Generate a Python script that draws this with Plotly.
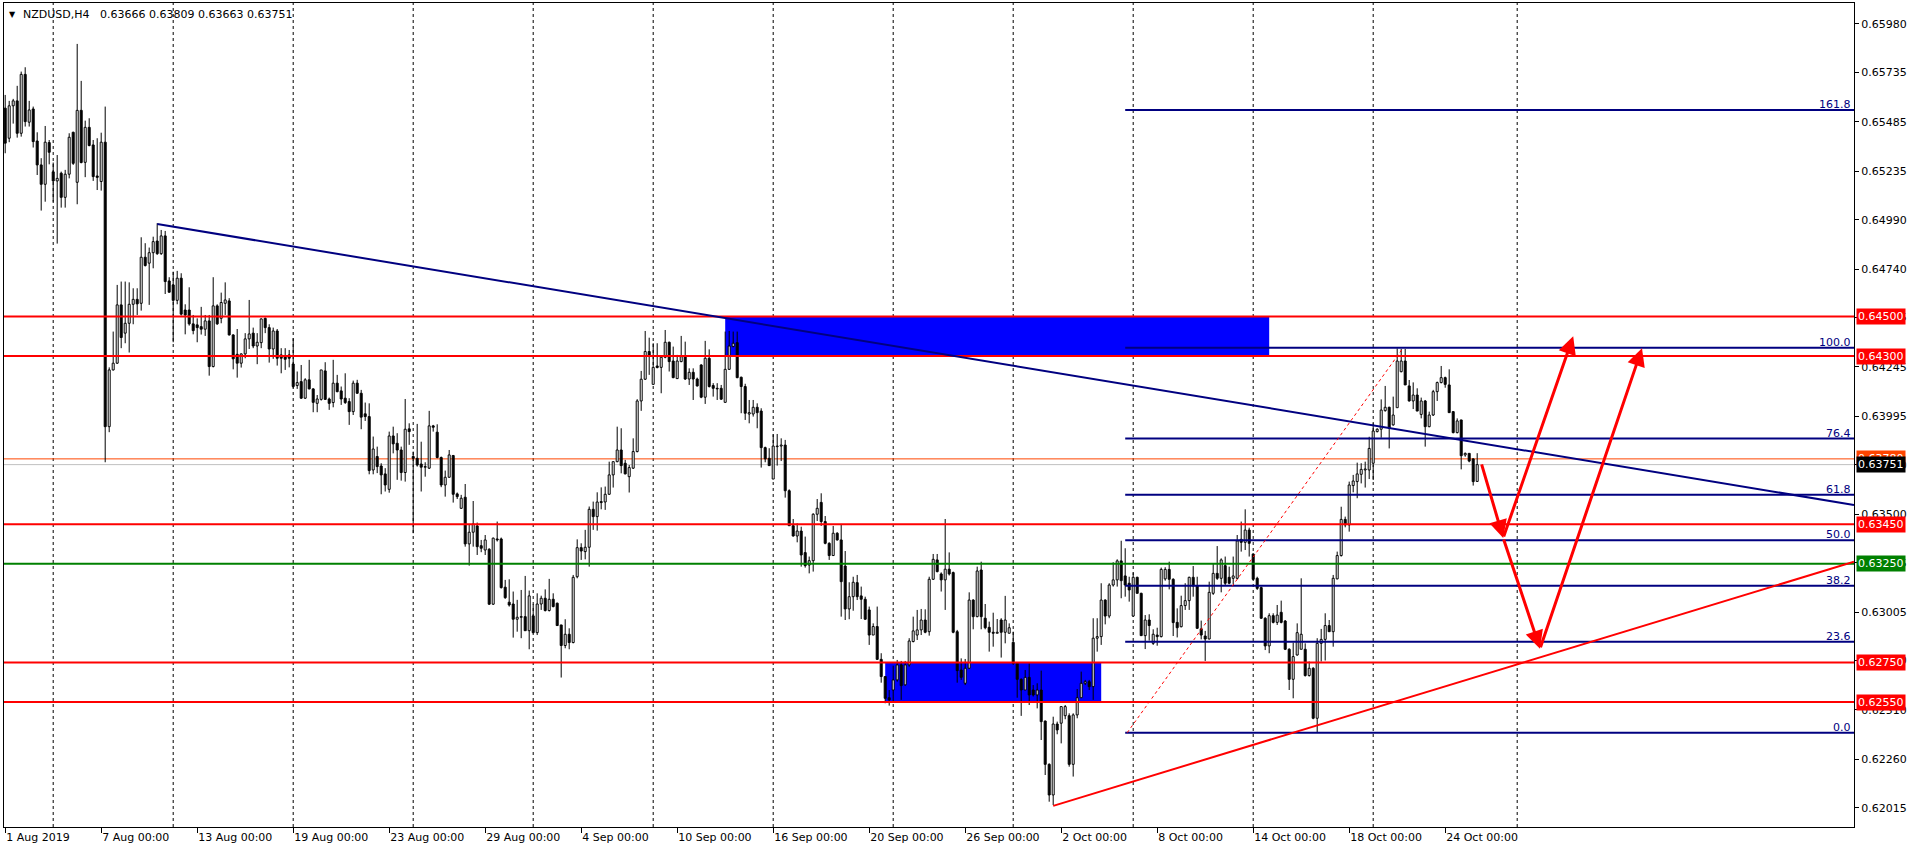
import plotly.graph_objects as go

# ---------------- data (NZDUSD H4, bar index 0 = 1 Aug 2019 00:00) ----------------
OPEN = [
 .65554,.65402,.65566,.65591,.65427,.65725,.65483,.65550,.65388,.65267,
 .65169,.65380,.65232,.65186,.65225,.65103,.65220,.65432,.65179,.65543,
 .65280,.65457,.65368,.65211,.65183,.65382,.63943,.64230,.64264,.64559,
 .64416,.64466,.64562,.64587,.64567,.64800,.64770,.64823,.64882,.64818,
 .64908,.64680,.64660,.64582,.64694,.64533,.64533,.64463,.64458,.64449,
 .64436,.64478,.64247,.64554,.64491,.64567,.64579,.64407,.64309,.64264,
 .64311,.64387,.64416,.64351,.64368,.64491,.64444,.64336,.64427,.64306,
 .64297,.64306,.64260,.64151,.64171,.64087,.64180,.64134,.64061,.64081,
 .64225,.64083,.64065,.64163,.64124,.64087,.64070,.64019,.64163,.64112,
 .64008,.63994,.63724,.63792,.63744,.63704,.63626,.63896,.63859,.63825,
 .63711,.63932,.63792,.63783,.63754,.63741,.63733,.63947,.63915,.63787,
 .63648,.63687,.63797,.63603,.63530,.63586,.63350,.63409,.63441,.63341,
 .63319,.63323,.63045,.63375,.63375,.63131,.63055,.63046,.62969,.62982,
 .62982,.62911,.62986,.62901,.63046,.63075,.63013,.63070,.63050,.62940,
 .62836,.62893,.62851,.63184,.63331,.63311,.63333,.63525,.63488,.63564,
 .63562,.63601,.63699,.63766,.63825,.63758,.63690,.63733,.63817,.64073,
 .64183,.64323,.64157,.64250,.64243,.64294,.64370,.64275,.64186,.64272,
 .64297,.64184,.64218,.64184,.64255,.64092,.64289,.64151,.64137,.64137,
 .64066,.64233,.64348,.64368,.64193,.64146,.64007,.64007,.64041,.64022,
 .63837,.63783,.63678,.63842,.63845,.63850,.63619,.63442,.63390,.63415,
 .63306,.63243,.63265,.63500,.63560,.63463,.63353,.63291,.63404,.63370,
 .63238,.63021,.63083,.63154,.63087,.63070,.63016,.62889,.62932,.62766,
 .62679,.62572,.62611,.62662,.62738,.62637,.62738,.62856,.62889,.62915,
 .62965,.62906,.63171,.63269,.63198,.63168,.63222,.63205,.62906,.62712,
 .62645,.62721,.63066,.62982,.63218,.62974,.62928,.62903,.62898,.62965,
 .62903,.62898,.62852,.62746,.62665,.62611,.62675,.62611,.62586,.62611,
 .62454,.62235,.62080,.62439,.62443,.62481,.62481,.62235,.62485,.62572,
 .62645,.62653,.62628,.62873,.62881,.63066,.62985,.63142,.63168,.63264,
 .63188,.63151,.62985,.63181,.63100,.62886,.62965,.62847,.62889,.62881,
 .63173,.63221,.63171,.62953,.62931,.63038,.63063,.63181,.63137,.62920,
 .62884,.62869,.63100,.63201,.63176,.63240,.63181,.63176,.63176,.63373,
 .63358,.63420,.63299,.63176,.63129,.62974,.62834,.62987,.62953,.63004,
 .62960,.62817,.62665,.62788,.62817,.62817,.62684,.62721,.62468,.62847,
 .62867,.62937,.62906,.63173,.63291,.63474,.63446,.63645,.63665,.63702,
 .63724,.63724,.63758,.63918,.63930,.64024,.64041,.63952,.64039,.64221,
 .64275,.64149,.64073,.64103,.64005,.64073,.63943,.64002,.64120,.64166,
 .64191,.64154,.64019,.63913,.63977,.63800,.63808,.63780,.63666,
]
HIGH = [
 .65621,.65591,.65601,.65667,.65739,.65761,.65591,.65562,.65432,.65301,
 .65464,.65393,.65279,.65317,.65233,.65242,.65427,.65435,.65879,.65692,
 .65491,.65503,.65393,.65402,.65430,.65562,.64243,.64424,.64660,.64677,
 .64677,.64673,.64643,.64643,.64901,.64871,.64849,.64904,.64972,.64938,
 .64933,.64699,.64727,.64731,.64719,.64562,.64648,.64508,.64491,.64549,
 .64508,.64508,.64699,.64562,.64621,.64673,.64593,.64410,.64437,.64314,
 .64416,.64584,.64444,.64416,.64491,.64495,.64461,.64444,.64437,.64340,
 .64340,.64331,.64390,.64222,.64255,.64188,.64281,.64137,.64103,.64230,
 .64269,.64090,.64281,.64205,.64146,.64213,.64087,.64176,.64180,.64129,
 .64065,.64061,.63893,.63842,.63758,.63733,.63918,.63943,.63910,.63842,
 .64083,.63960,.63817,.63957,.63867,.63763,.64023,.63952,.63955,.63792,
 .63721,.63825,.63800,.63610,.63598,.63653,.63451,.63567,.63458,.63370,
 .63395,.63328,.63382,.63463,.63382,.63168,.63171,.63109,.63067,.63117,
 .63188,.63114,.63045,.63100,.63088,.63120,.63173,.63100,.63053,.62940,
 .62969,.62923,.63193,.63373,.63353,.63421,.63539,.63564,.63611,.63636,
 .63640,.63766,.63766,.63943,.63935,.63775,.63749,.63884,.64082,.64225,
 .64427,.64393,.64365,.64365,.64297,.64432,.64373,.64348,.64306,.64402,
 .64373,.64238,.64238,.64191,.64259,.64377,.64334,.64163,.64163,.64154,
 .64424,.64427,.64424,.64424,.64196,.64160,.64078,.64078,.64061,.64036,
 .63842,.63834,.63904,.63906,.63884,.63876,.63626,.63476,.63454,.63437,
 .63387,.63286,.63505,.63577,.63606,.63491,.63358,.63441,.63409,.63451,
 .63314,.63156,.63184,.63193,.63134,.63083,.63033,.62948,.63033,.62797,
 .62679,.62611,.62734,.62763,.62758,.62758,.62873,.62982,.63016,.63021,
 .63019,.63184,.63299,.63299,.63206,.63476,.63307,.63210,.62915,.62771,
 .62768,.63105,.63070,.63235,.63260,.63046,.62957,.63002,.62970,.62974,
 .63087,.62948,.62906,.62750,.62670,.62712,.62746,.62636,.62645,.62709,
 .62456,.62240,.62476,.62451,.62530,.62535,.62493,.62493,.62616,.62704,
 .62662,.62662,.62974,.62974,.63151,.63070,.63151,.63257,.63272,.63366,
 .63328,.63184,.63205,.63184,.63103,.62990,.62994,.62918,.62926,.63230,
 .63232,.63260,.63176,.63024,.63088,.63151,.63184,.63238,.63184,.62962,
 .62910,.63159,.63252,.63339,.63277,.63286,.63235,.63286,.63395,.63463,
 .63525,.63432,.63302,.63184,.63134,.62979,.62999,.62999,.63041,.63063,
 .62965,.62822,.62851,.62948,.63176,.62847,.62755,.62726,.62873,.62920,
 .62999,.62965,.63193,.63311,.63538,.63488,.63665,.63699,.63761,.63758,
 .63766,.63892,.63960,.63935,.64081,.64149,.64044,.64095,.64339,.64336,
 .64336,.64179,.64167,.64137,.64090,.64078,.64019,.64129,.64171,.64250,
 .64196,.64233,.64022,.63985,.63977,.63812,.63808,.63783,.63809,
]
LOW = [
 .65326,.65382,.65476,.65405,.65410,.65461,.65461,.65355,.65216,.65036,
 .65081,.65270,.65081,.64869,.65051,.65051,.65199,.65267,.65068,.65275,
 .65205,.65361,.65186,.65140,.65137,.63763,.63915,.64227,.64260,.64340,
 .64365,.64318,.64461,.64508,.64530,.64753,.64559,.64744,.64812,.64812,
 .64614,.64621,.64370,.64562,.64505,.64410,.64454,.64410,.64370,.64409,
 .64402,.64201,.64243,.64458,.64466,.64508,.64404,.64233,.64191,.64242,
 .64289,.64336,.64340,.64259,.64340,.64416,.64267,.64286,.64252,.64213,
 .64230,.64243,.64137,.64134,.64083,.64083,.64132,.64016,.64016,.64075,
 .64078,.64028,.64041,.64117,.64053,.64058,.63952,.64002,.64109,.63930,
 .63972,.63702,.63702,.63708,.63601,.63615,.63609,.63808,.63674,.63670,
 .63665,.63851,.63404,.63741,.63615,.63690,.63729,.63918,.63783,.63637,
 .63589,.63685,.63559,.63577,.63527,.63336,.63240,.63336,.63294,.63308,
 .63294,.63041,.63041,.63362,.63124,.63072,.63033,.62876,.62906,.62873,
 .62910,.62817,.62898,.62889,.63016,.63008,.63008,.63029,.62935,.62674,
 .62822,.62817,.62847,.63176,.63269,.63272,.63235,.63421,.63417,.63525,
 .63522,.63598,.63635,.63763,.63707,.63702,.63610,.63729,.63813,.64023,
 .64179,.64205,.64157,.64238,.64112,.64289,.64222,.64188,.64184,.64269,
 .64179,.64154,.64078,.64146,.64087,.64058,.64141,.64095,.64078,.64078,
 .64065,.64230,.64345,.64188,.64011,.63977,.63960,.63994,.63935,.63736,
 .63763,.63744,.63678,.63746,.63769,.63584,.63441,.63387,.63358,.63235,
 .63230,.63201,.63210,.63466,.63441,.63348,.63269,.63289,.63367,.62982,
 .62965,.62969,.63012,.63066,.62970,.62965,.62839,.62889,.62763,.62648,
 .62544,.62532,.62552,.62653,.62561,.62633,.62729,.62852,.62864,.62889,
 .62898,.62886,.63168,.63206,.63109,.63016,.63190,.62898,.62648,.62662,
 .62636,.62718,.62918,.62979,.62918,.62918,.62805,.62830,.62898,.62775,
 .62847,.62898,.62738,.62572,.62480,.62611,.62535,.62578,.62518,.62358,
 .62181,.62046,.62029,.62387,.62341,.62463,.62223,.62173,.62468,.62572,
 .62636,.62611,.62561,.62805,.62839,.62943,.62974,.63134,.63134,.63075,
 .63083,.63058,.62982,.63100,.62884,.62818,.62861,.62839,.62835,.62877,
 .63164,.63120,.62884,.62877,.62928,.63016,.63016,.63083,.62920,.62867,
 .62758,.62867,.63092,.63168,.63105,.63142,.63146,.63147,.63171,.63311,
 .63319,.63286,.63168,.63117,.62970,.62813,.62797,.62948,.62940,.62948,
 .62813,.62611,.62569,.62785,.62817,.62679,.62679,.62463,.62397,.62755,
 .62760,.62906,.62830,.63171,.63286,.63434,.63412,.63611,.63581,.63656,
 .63635,.63678,.63673,.63914,.63887,.64019,.63833,.63948,.64039,.64218,
 .64154,.64070,.64032,.64022,.63985,.63842,.63940,.63997,.64073,.64162,
 .64140,.64014,.63909,.63909,.63727,.63791,.63763,.63645,.63663,
]
CLOSE = [
 .65377,.65566,.65591,.65427,.65725,.65486,.65545,.65385,.65267,.65169,
 .65382,.65331,.65186,.65199,.65103,.65220,.65407,.65275,.65543,.65279,
 .65457,.65365,.65208,.65204,.65382,.63943,.64230,.64264,.64559,.64394,
 .64466,.64562,.64587,.64564,.64800,.64758,.64823,.64879,.64818,.64908,
 .64677,.64623,.64582,.64694,.64512,.64508,.64463,.64429,.64444,.64436,
 .64478,.64247,.64554,.64463,.64571,.64584,.64407,.64286,.64264,.64311,
 .64387,.64412,.64351,.64370,.64488,.64444,.64336,.64427,.64289,.64289,
 .64284,.64289,.64146,.64166,.64087,.64180,.64134,.64066,.64083,.64230,
 .64081,.64061,.64163,.64120,.64083,.64065,.64019,.64163,.64112,.63991,
 .63994,.63721,.63830,.63741,.63699,.63648,.63896,.63856,.63825,.63711,
 .63930,.63918,.63783,.63749,.63738,.63738,.63947,.63940,.63787,.63648,
 .63687,.63800,.63601,.63589,.63581,.63350,.63409,.63451,.63336,.63328,
 .63370,.63045,.63379,.63370,.63129,.63078,.63041,.62969,.62979,.62979,
 .62911,.63087,.62901,.63046,.63075,.63013,.63070,.63033,.62937,.62836,
 .62893,.62851,.63181,.63331,.63314,.63333,.63525,.63488,.63562,.63559,
 .63601,.63699,.63766,.63825,.63746,.63704,.63736,.63817,.64073,.64183,
 .64323,.64301,.64243,.64242,.64294,.64370,.64272,.64191,.64275,.64297,
 .64184,.64218,.64184,.64149,.64092,.64289,.64146,.64137,.64134,.64082,
 .64233,.64351,.64365,.64191,.64146,.64011,.64014,.64041,.64014,.63837,
 .63780,.63746,.63845,.63845,.63850,.63619,.63442,.63390,.63415,.63294,
 .63240,.63265,.63500,.63530,.63463,.63353,.63291,.63404,.63370,.63159,
 .63021,.63083,.63156,.63083,.63070,.62969,.62889,.62932,.62766,.62679,
 .62569,.62561,.62662,.62738,.62633,.62738,.62859,.62910,.62915,.62965,
 .62903,.63171,.63272,.63210,.63168,.63222,.63198,.62903,.62709,.62675,
 .62721,.63066,.62982,.63213,.62982,.62926,.62903,.62898,.62903,.62903,
 .62965,.62926,.62746,.62665,.62611,.62675,.62586,.62586,.62611,.62451,
 .62235,.62080,.62439,.62409,.62527,.62527,.62235,.62485,.62572,.62645,
 .62653,.62628,.62873,.62881,.63066,.62985,.63142,.63168,.63264,.63164,
 .63142,.63117,.63181,.63100,.62886,.62965,.62937,.62893,.62881,.63221,
 .63221,.63171,.62952,.62926,.63038,.63063,.63181,.63137,.62923,.62889,
 .62869,.63105,.63201,.63176,.63269,.63151,.63151,.63188,.63365,.63358,
 .63420,.63353,.63171,.63125,.62974,.62834,.62987,.62953,.62990,.62953,
 .62817,.62665,.62780,.62901,.62893,.62684,.62721,.62468,.62847,.62867,
 .62937,.62906,.63176,.63291,.63474,.63446,.63648,.63668,.63704,.63727,
 .63729,.63833,.63921,.63930,.64027,.64041,.63935,.64002,.64275,.64275,
 .64154,.64073,.64103,.64022,.64073,.63943,.64002,.64120,.64166,.64191,
 .64157,.64014,.63913,.63972,.63796,.63808,.63769,.63665,.63751,
]

X_TICK_BARS = [0, 24, 48, 72, 96, 120, 144, 168, 192, 216, 240, 264, 288, 312, 336, 360]
X_TICK_LABELS = ["1 Aug 2019", "7 Aug 00:00", "13 Aug 00:00", "19 Aug 00:00", "23 Aug 00:00",
                 "29 Aug 00:00", "4 Sep 00:00", "10 Sep 00:00", "16 Sep 00:00", "20 Sep 00:00",
                 "26 Sep 00:00", "2 Oct 00:00", "8 Oct 00:00", "14 Oct 00:00", "18 Oct 00:00",
                 "24 Oct 00:00"]
Y_TICKS = [0.65980, 0.65735, 0.65485, 0.65235, 0.64990, 0.64740, 0.64495, 0.64245, 0.63995,
           0.63750, 0.63500, 0.63255, 0.63005, 0.62760, 0.62510, 0.62260, 0.62015]
GRID_BARS = [12, 42, 72, 102, 132, 162, 192, 222, 252, 282, 312, 342, 378]

RED_LEVELS = [0.64500, 0.64300, 0.63450, 0.62750, 0.62550]
GREEN_LEVEL = 0.63250
ASK_PRICE = 0.63780
BID_PRICE = 0.63751

FIB_START_BAR = 280
FIB_LOW = 0.62395
FIB_HIGH = 0.64342
FIB_PCTS = [0.0, 23.6, 38.2, 50.0, 61.8, 76.4, 100.0, 161.8]
FIB_DIAG = [(280.5, 0.62395), (349.5, 0.64342)]

ZONES = [(180.0, 316.0, 0.64300, 0.64500), (220.0, 274.0, 0.62550, 0.62750)]
BLUE_TREND = [(38.0, 0.64968), (462.2, 0.63547)]
RED_TREND = [(262.0, 0.62025), (462.2, 0.63260)]

ARROWS = [((369.0, 0.63760), (374.5, 0.63380)),
          ((374.5, 0.63380), (392.0, 0.64400)),
          ((374.5, 0.63380), (383.7, 0.62820)),
          ((383.7, 0.62820), (409.2, 0.64340))]

TITLE = "NZDUSD,H4\u00a0\u00a0\u00a00.63666 0.63809 0.63663 0.63751"

X_RANGE = [-0.3, 462.2]
Y_RANGE = [0.61918, 0.66086]

# ---------------- styling ----------------
FONT = "DejaVu Sans"
RED = "#FF0000"
NAVY = "#000080"
BLUE = "#0000FF"
GREEN = "#008000"

n = len(OPEN)
xs = list(range(n))

fig = go.Figure()

# candle bodies
base = [min(o, c) for o, c in zip(OPEN, CLOSE)]
height = [max(abs(c - o), 0.000004) for o, c in zip(OPEN, CLOSE)]
colors = ["white" if c >= o else "black" for o, c in zip(OPEN, CLOSE)]

# wicks (upper and lower separately so white bodies stay clean)
wx, wy = [], []
for i in xs:
    top = max(OPEN[i], CLOSE[i])
    bot = min(OPEN[i], CLOSE[i])
    if HIGH[i] > top:
        wx += [i, i, None]
        wy += [top, HIGH[i], None]
    if LOW[i] < bot:
        wx += [i, i, None]
        wy += [bot, LOW[i], None]

fig.add_trace(go.Scatter(x=wx, y=wy, mode="lines", line=dict(color="black", width=1),
                         hoverinfo="skip", showlegend=False))
fig.add_trace(go.Bar(x=xs, y=height, base=base, width=0.5,
                     marker=dict(color=colors, line=dict(color="black", width=1)),
                     hoverinfo="skip", showlegend=False))

shapes = []
# supply / demand zones (background)
for x0, x1, y0, y1 in ZONES:
    shapes.append(dict(type="rect", xref="x", yref="y", x0=x0, x1=x1, y0=y0, y1=y1,
                       fillcolor=BLUE, line=dict(width=0), layer="below"))
# vertical grid
for g in GRID_BARS:
    shapes.append(dict(type="line", xref="x", yref="paper", x0=g, x1=g, y0=0, y1=1,
                       line=dict(color="black", width=1, dash="3px,3px"), layer="below"))
# ask / bid lines
shapes.append(dict(type="line", xref="paper", yref="y", x0=0, x1=1, y0=ASK_PRICE, y1=ASK_PRICE,
                   line=dict(color="#FF4500", width=1), layer="below"))
shapes.append(dict(type="line", xref="paper", yref="y", x0=0, x1=1, y0=BID_PRICE, y1=BID_PRICE,
                   line=dict(color="#C0C0C0", width=1), layer="below"))
# fib levels
fib_prices = [FIB_LOW + (FIB_HIGH - FIB_LOW) * p / 100.0 for p in FIB_PCTS]
for fp in fib_prices:
    shapes.append(dict(type="line", xref="x", yref="y", x0=FIB_START_BAR, x1=X_RANGE[1],
                       y0=fp, y1=fp, line=dict(color=NAVY, width=2)))
# fib diagonal
shapes.append(dict(type="line", xref="x", yref="y", x0=FIB_DIAG[0][0], y0=FIB_DIAG[0][1],
                   x1=FIB_DIAG[1][0], y1=FIB_DIAG[1][1], line=dict(color=RED, width=1, dash="dot")))
# horizontal levels
for lv in RED_LEVELS:
    shapes.append(dict(type="line", xref="paper", yref="y", x0=0, x1=1, y0=lv, y1=lv,
                       line=dict(color=RED, width=2)))
shapes.append(dict(type="line", xref="paper", yref="y", x0=0, x1=1, y0=GREEN_LEVEL, y1=GREEN_LEVEL,
                   line=dict(color=GREEN, width=2)))
# trend lines
shapes.append(dict(type="line", xref="x", yref="y", x0=BLUE_TREND[0][0], y0=BLUE_TREND[0][1],
                   x1=BLUE_TREND[1][0], y1=BLUE_TREND[1][1], line=dict(color=NAVY, width=2)))
shapes.append(dict(type="line", xref="x", yref="y", x0=RED_TREND[0][0], y0=RED_TREND[0][1],
                   x1=RED_TREND[1][0], y1=RED_TREND[1][1], line=dict(color=RED, width=2)))

annotations = []
# fib labels
for p, fp in zip(FIB_PCTS, fib_prices):
    annotations.append(dict(xref="paper", yref="y", x=1, y=fp, text=f"{p:.1f}", showarrow=False,
                            xanchor="right", yanchor="bottom", xshift=-1, yshift=-3,
                            font=dict(family=FONT, size=11, color=NAVY)))
# price labels on the axis
def axis_label(price, bg, fg="white"):
    return dict(xref="paper", yref="y", x=1, y=price, text=f"{price:.5f}", showarrow=False,
                xanchor="left", yanchor="middle", xshift=2, bgcolor=bg, borderpad=1,
                font=dict(family=FONT, size=11, color=fg))
for lv in RED_LEVELS:
    annotations.append(axis_label(lv, RED))
annotations.append(axis_label(GREEN_LEVEL, GREEN))
annotations.append(axis_label(ASK_PRICE, "#FF4500"))
annotations.append(axis_label(BID_PRICE, "black"))

# arrows
for (tx, ty), (hx, hy) in ARROWS:
    annotations.append(dict(xref="x", yref="y", axref="x", ayref="y", x=hx, y=hy, ax=tx, ay=ty,
                            text="", showarrow=True, arrowhead=2, arrowsize=1.2, arrowwidth=3,
                            arrowcolor=RED, standoff=0, startstandoff=0))

# title
annotations.append(dict(xref="paper", yref="paper", x=0, y=1, text="\u25bc", showarrow=False,
                        xanchor="left", yanchor="top", xshift=3, yshift=-5,
                        font=dict(family=FONT, size=8, color="black")))
annotations.append(dict(xref="paper", yref="paper", x=0, y=1, text=TITLE, showarrow=False,
                        xanchor="left", yanchor="top", xshift=17, yshift=-3,
                        font=dict(family=FONT, size=11, color="black")))

fig.update_layout(
    width=1919, height=853,
    margin=dict(l=4, r=65, t=3, b=26),
    paper_bgcolor="white", plot_bgcolor="white",
    showlegend=False, barmode="overlay",
    shapes=shapes, annotations=annotations,
    xaxis=dict(range=X_RANGE, showgrid=False, zeroline=False, showline=True, mirror=True,
               linecolor="black", linewidth=1, ticks="outside", ticklen=5, tickcolor="black",
               tickvals=X_TICK_BARS, ticktext=X_TICK_LABELS, ticklabelposition="outside right",
               tickfont=dict(family=FONT, size=11, color="black")),
    yaxis=dict(range=Y_RANGE, side="right", showgrid=False, zeroline=False, showline=True,
               mirror=True, linecolor="black", linewidth=1, ticks="outside", ticklen=4,
               tickcolor="black", tickvals=Y_TICKS, ticktext=[f"{v:.5f}" for v in Y_TICKS],
               tickfont=dict(family=FONT, size=11, color="black")),
)

fig.write_html("out.html", config={"displayModeBar": False},
               post_script="document.body.style.margin='0';document.body.style.overflow='hidden';")
